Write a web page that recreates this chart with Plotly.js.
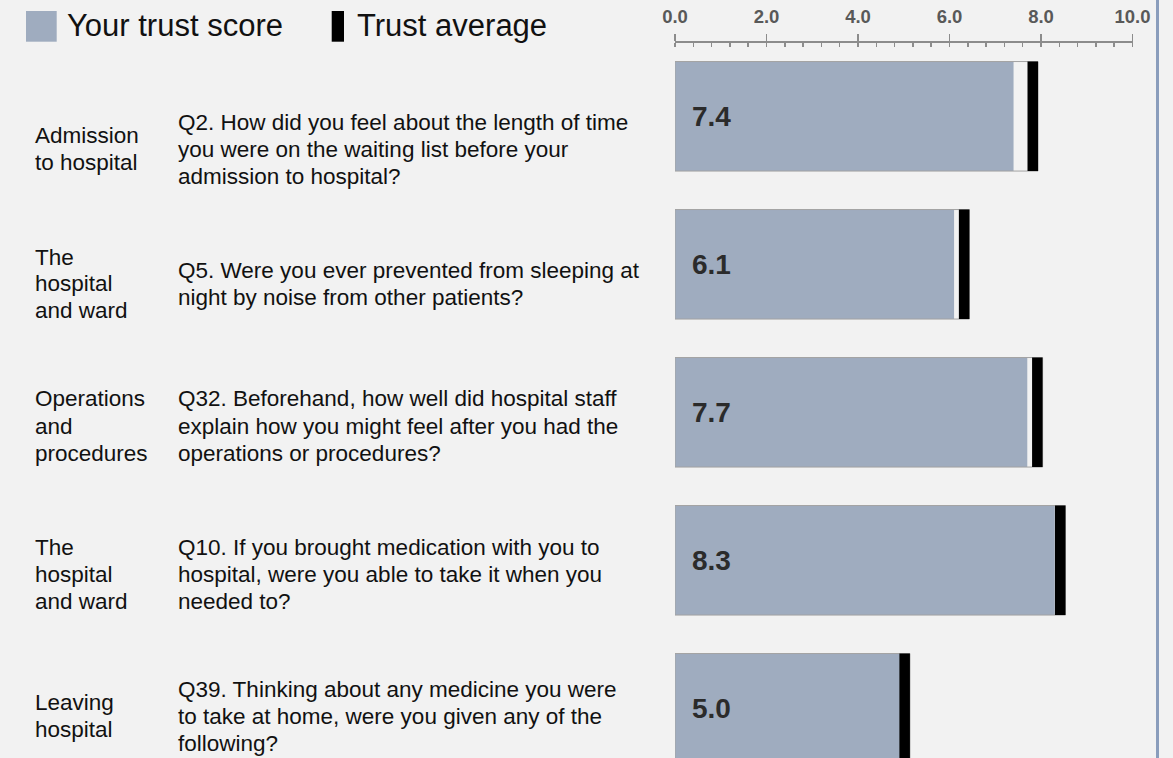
<!DOCTYPE html>
<html>
<head>
<meta charset="utf-8">
<script src="https://cdn.plot.ly/plotly-3.0.1.min.js"></script>
<style>
html,body{margin:0;padding:0;background:#f2f2f2;}
#chart{width:1173px;height:758px;}
</style>
</head>
<body>
<div id="chart"></div>
<script>
// ---- data ----
const sections = [
  ["Admission", "to hospital"],
  ["The", "hospital", "and ward"],
  ["Operations", "and", "procedures"],
  ["The", "hospital", "and ward"],
  ["Leaving", "hospital"]
];
const questions = [
  ["Q2. How did you feel about the length of time", "you were on the waiting list before your", "admission to hospital?"],
  ["Q5. Were you ever prevented from sleeping at", "night by noise from other patients?"],
  ["Q32. Beforehand, how well did hospital staff", "explain how you might feel after you had the", "operations or procedures?"],
  ["Q10. If you brought medication with you to", "hospital, were you able to take it when you", "needed to?"],
  ["Q39. Thinking about any medicine you were", "to take at home, were you given any of the", "following?"]
];
const scores = [7.4, 6.1, 7.7, 8.3, 5.0];
const averages = [7.82, 6.32, 7.92, 8.42, 5.02];
const tickValues = [0, 2, 4, 6, 8, 10];
const tickLabels = ["0.0", "2.0", "4.0", "6.0", "8.0", "10.0"];
const legendNames = ["Your trust score", "Trust average"];

// ---- layout constants ----
const W = 1173, H = 758, TOP = 43;
const PLOT_H = H - TOP;
const ROW0 = 116.3, ROW_STEP = 148;
const MARK_W = 0.23;
const BAR_W = 0.74;
const rowTextCenterPx = [149, 284, 426, 574, 716];
const LINE_GAP = 27;
const FONT = "Liberation Sans, Arial, sans-serif";

const rows = scores.map((_, i) => i);
const yRange = [(H - ROW0) / ROW_STEP, (TOP - ROW0) / ROW_STEP];
const py = px => 1 + (TOP - px) / PLOT_H;   // pixel -> paper y
const pxX = px => px / W;                    // pixel -> paper x

const traces = [
  {
    type: "bar", orientation: "h", y: rows, x: scores, width: BAR_W,
    marker: {color: "#9facbf", line: {width: 0}},
    hoverinfo: "skip", showlegend: false
  },
  {
    type: "bar", orientation: "h", y: rows,
    x: averages.map(a => a + MARK_W / 2), width: BAR_W,
    marker: {color: "rgba(0,0,0,0)", line: {color: "#a3a3a3", width: 1}},
    hoverinfo: "skip", showlegend: false
  },
  {
    type: "bar", orientation: "h", y: rows,
    base: averages.map(a => a - MARK_W / 2), x: averages.map(() => MARK_W), width: BAR_W,
    marker: {color: "#000000", line: {width: 0}},
    hoverinfo: "skip", showlegend: false
  }
];

const annotations = [];
sections.forEach((lines, r) => {
  lines.forEach((t, i) => {
    annotations.push({
      xref: "paper", yref: "paper", x: pxX(33), y: py(rowTextCenterPx[r] + (i - (lines.length - 1) / 2) * LINE_GAP),
      xanchor: "left", yanchor: "middle", text: t, showarrow: false,
      font: {family: FONT, size: 22.5, color: "#111111"}
    });
  });
});
questions.forEach((lines, r) => {
  lines.forEach((t, i) => {
    annotations.push({
      xref: "paper", yref: "paper", x: pxX(175.5), y: py(rowTextCenterPx[r] + (i - (lines.length - 1) / 2) * LINE_GAP),
      xanchor: "left", yanchor: "middle", text: t, showarrow: false,
      font: {family: FONT, size: 22.5, color: "#111111"}
    });
  });
});
scores.forEach((v, r) => {
  annotations.push({
    xref: "x", yref: "y", x: 0, y: r, xshift: 15, xanchor: "left", yanchor: "middle",
    text: v.toFixed(1), showarrow: false,
    font: {family: FONT, size: 28, color: "#2b2b2b", weight: "bold"}
  });
});
annotations.push({
  xref: "paper", yref: "paper", x: pxX(65), y: py(26), xanchor: "left", yanchor: "middle",
  text: legendNames[0], showarrow: false, font: {family: FONT, size: 31, color: "#111111"}
});
annotations.push({
  xref: "paper", yref: "paper", x: pxX(354.5), y: py(26), xanchor: "left", yanchor: "middle",
  text: legendNames[1], showarrow: false, font: {family: FONT, size: 31, color: "#111111"}
});

const shapes = [
  {type: "rect", xref: "paper", yref: "paper", x0: pxX(26), x1: pxX(56.7), y0: py(41.7), y1: py(11),
   fillcolor: "#9facbf", line: {width: 0}},
  {type: "rect", xref: "paper", yref: "paper", x0: pxX(331.7), x1: pxX(344), y0: py(41.7), y1: py(11),
   fillcolor: "#000000", line: {width: 0}},
  {type: "line", xref: "paper", yref: "paper", x0: pxX(1157.5), x1: pxX(1157.5), y0: py(H), y1: py(0),
   line: {color: "#8a9dbc", width: 3}}
];

const layout = {
  width: W, height: H,
  margin: {l: 0, r: 0, t: TOP, b: 0},
  paper_bgcolor: "#f2f2f2", plot_bgcolor: "rgba(0,0,0,0)",
  barmode: "overlay",
  showlegend: false,
  xaxis: {
    domain: [675 / W, 1132.5 / W], range: [0, 10], side: "top",
    showline: true, linecolor: "#8c8c8c", linewidth: 2,
    ticks: "outside", ticklen: 7, tickwidth: 1.5, tickcolor: "#8c8c8c",
    tickvals: tickValues, ticktext: tickLabels,
    ticklabelstandoff: 4,
    tickfont: {family: FONT, size: 18.5, color: "#595959", weight: "bold"},
    minor: {dtick: 0.4, tick0: 0, ticks: "inside", ticklen: 3.5, tickwidth: 1.5, tickcolor: "#8c8c8c", showgrid: false},
    showgrid: false, zeroline: false, fixedrange: true
  },
  yaxis: {
    range: yRange, visible: false, showgrid: false, zeroline: false, fixedrange: true
  },
  annotations: annotations,
  shapes: shapes
};

Plotly.newPlot("chart", traces, layout, {displayModeBar: false, staticPlot: true});
</script>
</body>
</html>
